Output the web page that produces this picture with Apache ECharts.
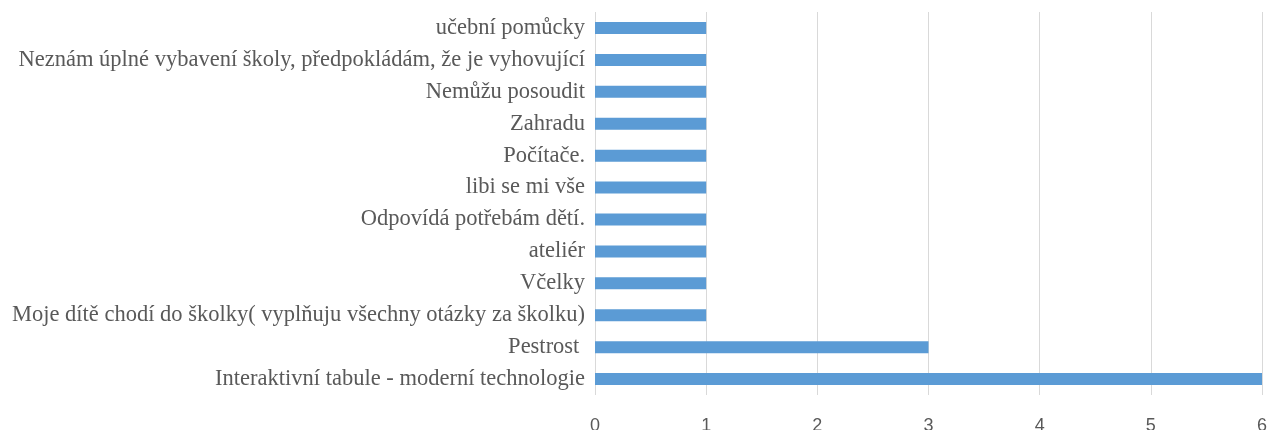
<!DOCTYPE html>
<html>
<head>
<meta charset="utf-8">
<script src="https://cdn.jsdelivr.net/npm/echarts@6/dist/echarts.min.js"></script>
<style>html,body{margin:0;padding:0;background:#fff}#c{width:1270px;height:430px}</style>
</head>
<body>
<div id="c"></div>
<script>
const categories = [
  "Interaktivní tabule - moderní technologie",
  "Pestrost ",
  "Moje dítě chodí do školky( vyplňuju všechny otázky za školku)",
  "Včelky",
  "ateliér",
  "Odpovídá potřebám dětí.",
  "libi se mi vše",
  "Počítače.",
  "Zahradu",
  "Nemůžu posoudit",
  "Neznám úplné vybavení školy, předpokládám, že je vyhovující",
  "učební pomůcky"
];
const values = [6, 3, 1, 1, 1, 1, 1, 1, 1, 1, 1, 1];
const xTicks = { min: 0, max: 6, interval: 1 };

const chart = echarts.init(document.getElementById('c'), null, { renderer: 'canvas' });
chart.setOption({
  animation: false,
  grid: { left: 595, right: 8, top: 12, bottom: 35, containLabel: false, outerBoundsMode: 'none' },
  xAxis: {
    type: 'value', min: xTicks.min, max: xTicks.max, interval: xTicks.interval,
    axisLine: { show: false }, axisTick: { show: false },
    splitLine: { show: true, lineStyle: { color: '#d9d9d9', width: 1 } },
    axisLabel: { color: '#595959', fontSize: 18, fontFamily: 'Liberation Sans, sans-serif', margin: 22 }
  },
  yAxis: {
    type: 'category', data: categories,
    axisLine: { show: false }, axisTick: { show: false },
    axisLabel: { color: '#595959', fontSize: 22.5, fontFamily: 'Liberation Serif, serif', margin: 10 }
  },
  series: [{
    type: 'bar', data: values, barWidth: 12,
    itemStyle: { color: '#5b9bd5' }
  }]
});
</script>
</body>
</html>
